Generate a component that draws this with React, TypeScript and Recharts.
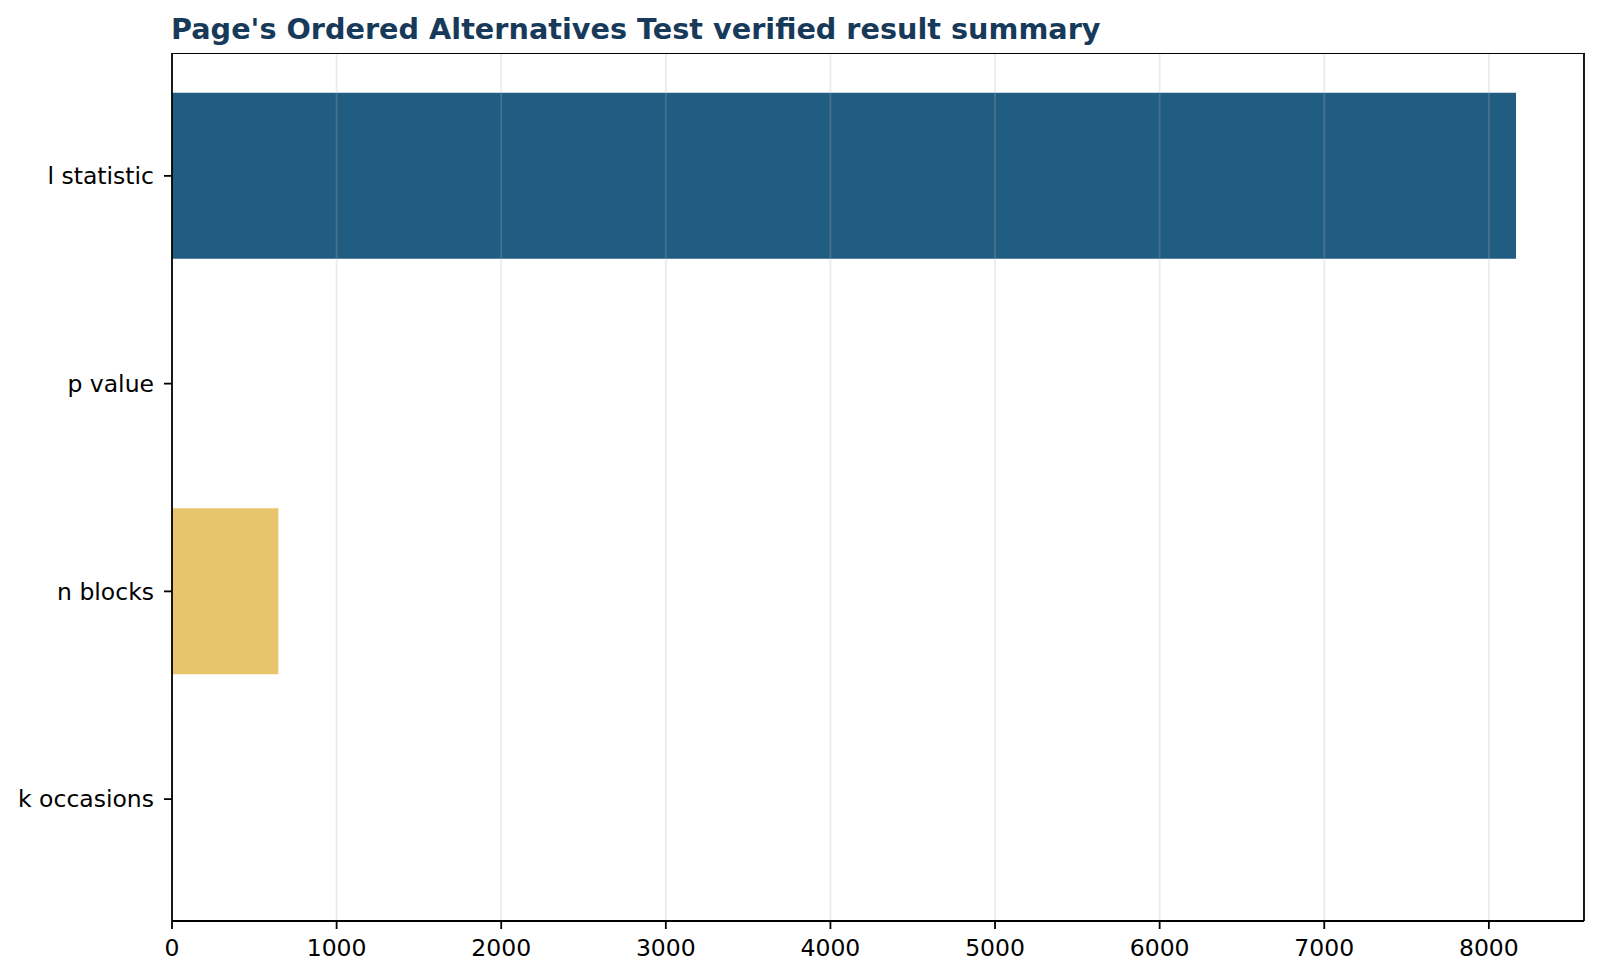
import React from "react"
import { BarChart, Bar, XAxis, YAxis, Cell, ReferenceLine } from "recharts"

const categories = ["l statistic", "p value", "n blocks", "k occasions"]
const values = [8165, 0.0001, 646, 4]
const barColors = ["#215c82", "#3f8f8a", "#e8c46c", "#c8553d"]
const xTicks = [0, 1000, 2000, 3000, 4000, 5000, 6000, 7000, 8000]
const xMax = 8578

const data = categories.map((name, i) => ({ name, value: values[i] }))

const FONT = "DejaVu Sans, sans-serif"

export default function App() {
  return (
    <div style={{ position: "absolute", left: 0, top: 0, width: 1600, height: 978, background: "#fff" }}>
      <div
        style={{
          position: "absolute",
          left: 171,
          top: 15,
          fontFamily: FONT,
          fontWeight: "bold",
          fontSize: 28.7,
          lineHeight: 1,
          color: "#183a5a",
          whiteSpace: "nowrap",
        }}
      >
        Page's Ordered Alternatives Test verified result summary
      </div>
      <BarChart
        width={1600}
        height={978}
        data={data}
        layout="vertical"
        barCategoryGap="10%"
        margin={{ top: 54, right: 16, bottom: 0, left: 0 }}
        style={{ fontFamily: FONT }}
      >
        <XAxis
          type="number"
          domain={[0, xMax]}
          ticks={xTicks}
          allowDataOverflow
          height={57}
          tickSize={8}
          tickMargin={10}
          axisLine={{ stroke: "#000", strokeWidth: 1.8 }}
          tickLine={{ stroke: "#000", strokeWidth: 1.8 }}
          tick={{ fill: "#000", fontSize: 23.5 }}
        />
        <YAxis
          type="category"
          dataKey="name"
          width={172}
          padding={{ top: 18, bottom: 18 }}
          tickSize={8}
          tickMargin={10}
          axisLine={{ stroke: "#000", strokeWidth: 1.8 }}
          tickLine={{ stroke: "#000", strokeWidth: 1.8 }}
          tick={{ fill: "#000", fontSize: 23.5 }}
        />
        <Bar dataKey="value" isAnimationActive={false}>
          {data.map((d, i) => (
            <Cell key={d.name} fill={barColors[i]} />
          ))}
        </Bar>
        {xTicks.slice(1).map((t) => (
          <ReferenceLine key={t} x={t} stroke="#b0b0b0" strokeOpacity={0.25} strokeWidth={1.8} />
        ))}
        <ReferenceLine x={xMax} stroke="#000" strokeWidth={1.8} ifOverflow="visible" />
      </BarChart>
      {/* top spine of the plot frame */}
      <div
        style={{
          position: "absolute",
          left: 171,
          top: 53,
          width: 1414,
          height: 0,
          borderTop: "1.8px solid #000",
          pointerEvents: "none",
        }}
      />
    </div>
  )
}
